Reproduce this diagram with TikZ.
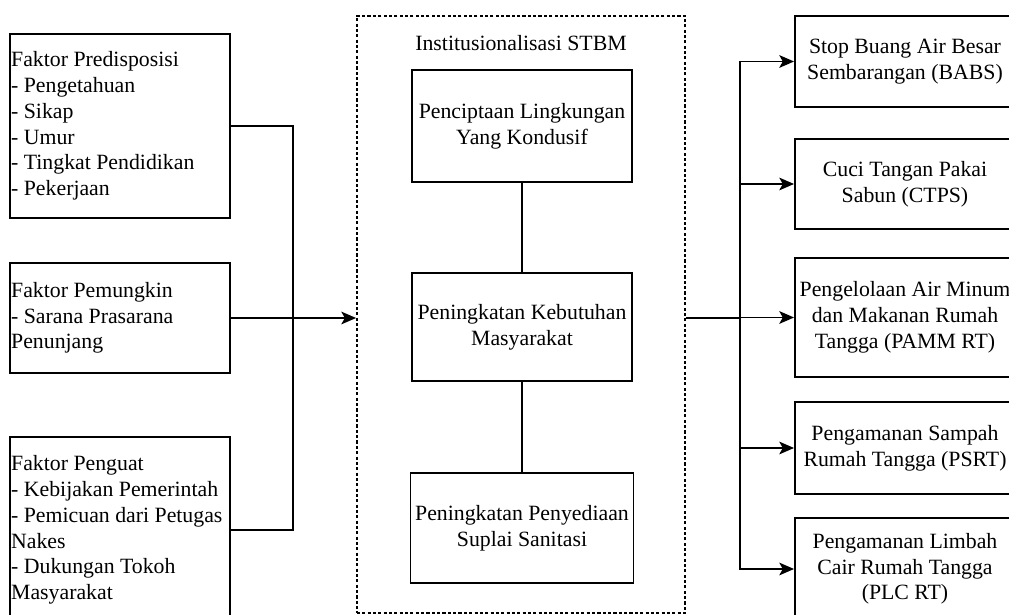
\documentclass[tikz,border=0pt]{standalone}
\usepackage{fontspec}
\setmainfont{Liberation Serif}
\usepackage{tikz}
\usetikzlibrary{arrows.meta}

\begin{document}
\begin{tikzpicture}[x=0.025cm, y=-0.025cm,
    every node/.style={font=\fontsize{15.5}{18.3}\selectfont},
    box/.style={draw, line width=1.3pt, rectangle, minimum width=5.5cm},
    lbox/.style={box, align=flush left, text width=5.44cm, inner xsep=0.03cm},
    cbox/.style={box, align=center},
    frame/.style={draw, line width=1.2pt, dash pattern=on 2.2pt off 1.6pt, rectangle,
      minimum width=8.2cm, minimum height=14.925cm},
    arr/.style={line width=1.3pt, -{Stealth[length=10.5pt, width=9pt, inset=2.5pt]}},
    conn/.style={line width=1.3pt}]

    \path[use as bounding box, clip] (0, 0) rectangle (1009, 615);

    \node [lbox, minimum height=4.6cm] (f1) at (120, 126) {Faktor Predisposisi\\- Pengetahuan\\- Sikap\\- Umur\\- Tingkat Pendidikan\\- Pekerjaan};
    \node [lbox, minimum height=2.75cm] (f2) at (120, 318) {Faktor Pemungkin\\- Sarana Prasarana\\Penunjang};
    \node [lbox, minimum height=4.65cm] (f3) at (120, 530) {Faktor Penguat\\- Kebijakan Pemerintah\\- Pemicuan dari Petugas\\Nakes\\- Dukungan Tokoh\\Masyarakat};

    \node [frame] (stbm) at (521, 314.5) {};
    \node (title) at (521, 43) {Institusionalisasi STBM};
    \node [cbox, minimum height=2.8cm] (s1) at (522, 126) {Penciptaan Lingkungan\\Yang Kondusif};
    \node [cbox, minimum height=2.7cm] (s2) at (522, 327) {Peningkatan Kebutuhan\\Masyarakat};
    \node [cbox, minimum height=2.75cm] (s3) at (522, 528) {Peningkatan Penyediaan\\Suplai Sanitasi};

    \node [cbox, minimum height=2.275cm] (r1) at (905, 61.5) {Stop Buang Air Besar\\Sembarangan (BABS)};
    \node [cbox, minimum height=2.25cm] (r2) at (905, 184) {Cuci Tangan Pakai\\Sabun (CTPS)};
    \node [cbox, minimum height=2.975cm] (r3) at (905, 317.5) {Pengelolaan Air Minum\\dan Makanan Rumah\\Tangga (PAMM RT)};
    \node [cbox, minimum height=2.3cm] (r4) at (905, 448) {Pengamanan Sampah\\Rumah Tangga (PSRT)};
    \node [cbox, minimum height=2.55cm] (r5) at (905, 569) {Pengamanan Limbah\\Cair Rumah Tangga\\(PLC RT)};

    \coordinate (jl) at (293, 318);
    \coordinate (jr) at (740, 318);

    \draw [conn] (f1.east) -| (jl) |- (f3.east);
    \draw [arr] (f2.east) -- (f2.east -| stbm.west);

    \draw [conn] (s1) -- (s2);
    \draw [conn] (s2) -- (s3);

    \draw [conn] (jr -| stbm.east) -- (jr);
    \foreach \r in {r1, r2, r3, r4, r5}
      \draw [arr] (jr) |- (\r.west);

\end{tikzpicture}
\end{document}
